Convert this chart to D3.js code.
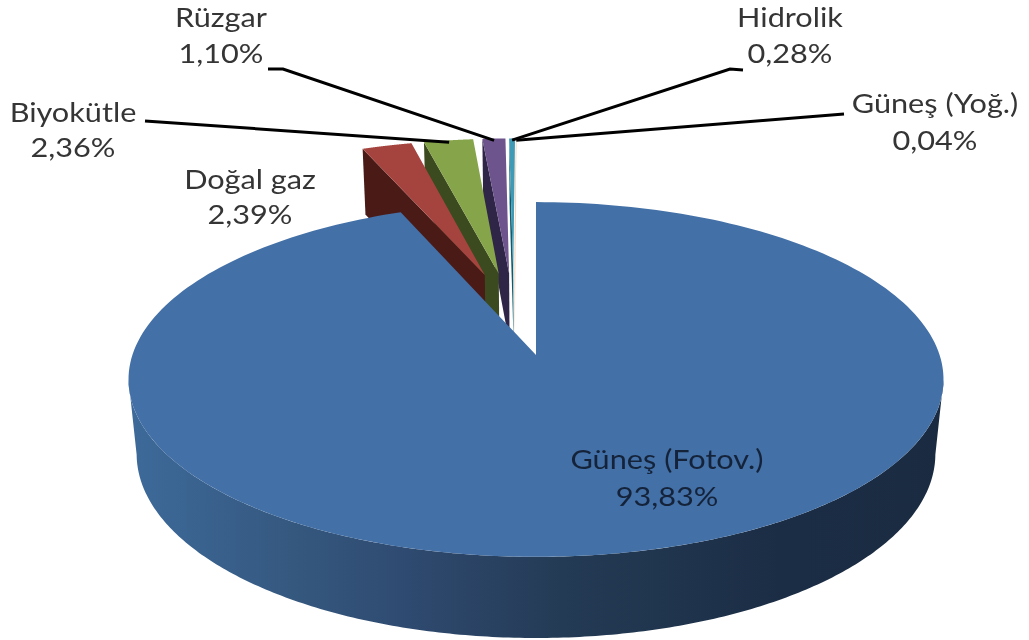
<!doctype html>
<html>

<head>
    <meta charset="utf-8">
    <script src="https://d3js.org/d3.v7.min.js"></script>
    <style>
        html, body { margin: 0; padding: 0; background: #fff; }
        svg { display: block; filter: blur(0.65px); }
        text { font-family: Lato, "Open Sans", sans-serif; font-size: 26px; text-anchor: middle; fill: #353535; }
    </style>
</head>

<body>
    <svg id="chart" width="1029" height="640"></svg>
    <script>
        // chart data
        var categories = ["Güneş (Fotov.)", "Doğal gaz", "Biyokütle", "Rüzgar", "Hidrolik", "Güneş (Yoğ.)"];
        var values = [93.83, 2.39, 2.36, 1.10, 0.28, 0.04];
        var topColors = ["#4370a6", "#a5443f", "#86a44a", "#6e548d", "#3f9ab5", "#f6cfae"];
        var sideColors = ["#2a4568", "#4a1a17", "#3c4a1f", "#2f2547", "#0f5a6b", "#f6dcc6"];

        // label placement: centre x, first baseline, second baseline
        var labelX = [667, 250, 73, 221, 790, 935];
        var labelY = [469, 189, 122, 27, 27, 113];
        var lineGap = [37, 35, 35, 36, 36, 37];
        // where each leader line leaves its label (doğal gaz and fotov. have none)
        var leaderStart = [null, null, [[145, 121]], [[268, 69], [283, 69]], [[743, 70], [730, 69]], [[844, 114]]];

        var svg = d3.select("#chart");

        // perspective of the pie plane, fitted to the picture
        var originX = 536, originY = 355;
        var scaleX = 403.6, scaleY = 174, depth = 75.6;
        var tilt = 0.138, sink = 0.02;
        var explode = 0.254;
        var backNudge = -0.0085; // small slices sit a touch further left than the fit
        var textStretch = 1.18; // reference picture was widened, so the text is too

        var pie = d3.pie().sort(null).value(function(d) { return d; });
        var slices = pie(values);
        slices.forEach(function(s, i) {
            s.name = categories[i];
            s.index = i;
            s.mid = (s.startAngle + s.endAngle) / 2;
        });

        var blueMid = slices[0].mid;

        // x to the right, y towards the viewer, z down; all in pie radii from the blue apex
        function project(x, y, z) {
            var w = 1 - tilt * y + sink * z;
            return [originX + scaleX * x / w, originY + (scaleY * y + depth * z) / w];
        }

        // point on a slice at given angle and radius
        function slicePoint(s, angle, r, z) {
            var ox = explode * (Math.sin(s.mid) - Math.sin(blueMid)) + (s.index === 0 ? 0 : backNudge);
            var oy = explode * (-Math.cos(s.mid) + Math.cos(blueMid));
            return project(ox + r * Math.sin(angle), oy - r * Math.cos(angle), z);
        }

        function rim(s, a0, a1, z) {
            return d3.range(0, 241).map(function(k) {
                return slicePoint(s, a0 + (a1 - a0) * k / 240, 1, z);
            });
        }

        var line = d3.line();

        // gradient on the outer wall of the big slice
        var grad = svg.append("defs").append("linearGradient")
            .attr("id", "wall")
            .attr("gradientUnits", "userSpaceOnUse")
            .attr("x1", 130).attr("x2", 945).attr("y1", 0).attr("y2", 0);
        grad.selectAll("stop")
            .data([[0, "#3d6a9a"], [0.2, "#35587f"], [0.34, "#2f4a70"], [0.53, "#243b55"], [0.8, "#1b2d45"], [1, "#1a2b41"]])
            .enter().append("stop")
            .attr("offset", function(d) { return d[0]; })
            .attr("stop-color", function(d) { return d[1]; });

        // back slices first, big one on top
        var drawOrder = slices.slice().reverse();
        var g = svg.append("g");

        drawOrder.forEach(function(s) {
            if (s.index === 0) {
                // wall only between the left and right extremes of the rim, past them the band folds
                var sweep = d3.range(0, 720).map(function(k) { return k * Math.PI / 360; });
                var right = sweep[d3.maxIndex(sweep, function(a) { return slicePoint(s, a, 1, 0)[0]; })];
                var left = sweep[d3.minIndex(sweep, function(a) { return slicePoint(s, a, 1, 0)[0]; })];
                var front = rim(s, right, left, 0).concat(rim(s, right, left, 1).reverse());
                g.append("path")
                    .attr("d", line(front) + "Z")
                    .attr("fill", "url(#wall)");
            } else {
                // left cut face
                var face = [
                    slicePoint(s, s.startAngle, 0, 0),
                    slicePoint(s, s.startAngle, 1, 0),
                    slicePoint(s, s.startAngle, 1, 1),
                    slicePoint(s, s.startAngle, 0, 1)
                ];
                g.append("path")
                    .attr("d", line(face) + "Z")
                    .attr("fill", sideColors[s.index]);
            }
            var top = [slicePoint(s, s.startAngle, 0, 0)].concat(rim(s, s.startAngle, s.endAngle, 0));
            g.append("path")
                .attr("d", line(top) + "Z")
                .attr("fill", topColors[s.index]);
        });

        // leader lines
        slices.forEach(function(s) {
            var start = leaderStart[s.index];
            if (!start) return;
            var pts = start.concat([slicePoint(s, s.mid, 0.985, 0)]);
            svg.append("path")
                .attr("d", line(pts))
                .attr("fill", "none")
                .attr("stroke", "#000")
                .attr("stroke-width", 3);
        });

        // labels
        slices.forEach(function(s) {
            var t = svg.append("text")
                .attr("transform", "translate(" + labelX[s.index] + "," + labelY[s.index] + ") scale(" + textStretch + ",1)")
                .style("fill", s.index === 0 ? "#14233a" : null);
            t.append("tspan").text(s.name);
            t.append("tspan")
                .attr("x", 0)
                .attr("dy", lineGap[s.index])
                .text(values[s.index].toFixed(2).replace(".", ",") + "%");
        });
    </script>
</body></html>
